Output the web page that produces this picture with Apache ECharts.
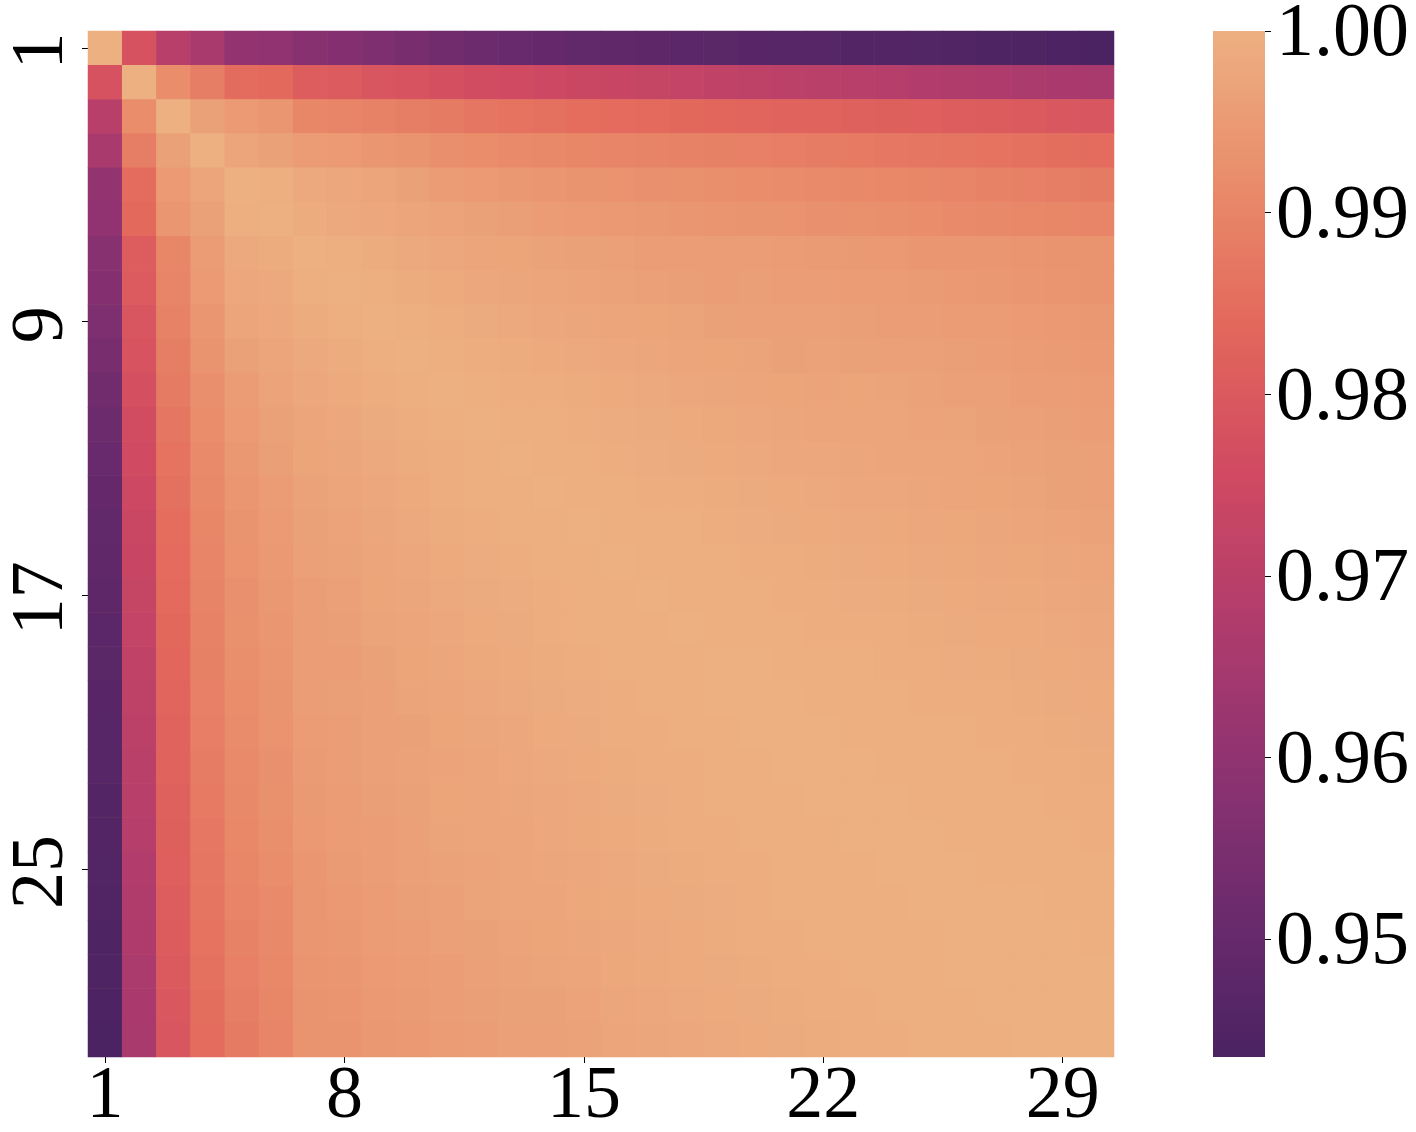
<!DOCTYPE html>
<html>
<head>
<meta charset="utf-8">
<style>html,body{margin:0;padding:0;background:#fff}#c{width:1416px;height:1132px}</style>
<script src="https://cdn.jsdelivr.net/npm/echarts@6/dist/echarts.min.js"></script>
</head>
<body>
<div id="c"></div>
<script>
const categories = Array.from({length: 30}, (_, i) => String(i + 1));
const colorbarTicks = [0.95, 0.96, 0.97, 0.98, 0.99, 1.00];
const colorMin = 0.9435, colorMax = 1.0;
const flareReversed = ['#4b2362','#6c2b6d','#8f3371','#b13c6c','#d14a61','#e3685c','#e98d6b','#edb081'];
// upper triangle of the symmetric matrix: each row starts on the diagonal
const r01 = [1,.978,.9695,.9655,.9605,.9600,.9580,.9570,.9555,.9540,.9525,.9515,.9505,.9498,.9492,.9486,.9480,.9476,.9472,.9468,.9465,.9461,.9458,.9455,.9452,.9449,.9446,.9443,.9440,.9437];
const r02 = [1,.992,.9885,.9848,.984,.981,.9803,.979,.9783,.977,.9763,.9755,.9747,.974,.9734,.9728,.9722,.9716,.971,.9704,.9698,.9692,.9686,.968,.9675,.967,.9665,.966,.9655];
const r03 = [1,.9965,.995,.994,.9905,.99,.9895,.9885,.988,.987,.9862,.9855,.985,.9846,.9842,.9838,.9834,.983,.9827,.9824,.9821,.9818,.9815,.981,.9805,.98,.9795,.979];
const r04 = [1,.9975,.9965,.9955,.995,.994,.9935,.9925,.992,.9915,.991,.9905,.9902,.9899,.9896,.9893,.989,.9886,.9882,.9878,.9874,.987,.9866,.9862,.9858,.9852,.9847];
const r05 = [1,.9995,.9985,.998,.9975,.9965,.9955,.995,.9945,.994,.9935,.9932,.9929,.9926,.9923,.992,.9917,.9914,.9911,.9908,.9905,.99,.9895,.989,.9885,.988];
const r06 = [1,.999,.9985,.998,.9975,.997,.9965,.996,.9955,.995,.9947,.9944,.9941,.9938,.9935,.9932,.9929,.9926,.9923,.992,.9915,.9912,.9908,.9904,.99];
const r07 = [1,.9995,.999,.9985,.998,.9975,.9972,.9968,.9965,.9962,.9959,.9956,.9958,.9956,.9954,.9952,.9949,.9946,.9943,.9941,.9939,.9937,.9935,.9933];
const r08 = [1,.9995,.999,.9986,.9982,.9978,.9974,.997,.9967,.9964,.9961,.9958,.996,.9958,.9956,.9955,.9953,.9951,.9948,.9945,.9942,.9938,.9935];
const r09 = [1,.9995,.9992,.9988,.9984,.998,.9977,.9975,.9972,.9969,.9966,.9963,.9964,.9962,.996,.9959,.9957,.9955,.9953,.995,.9947,.9944,.9941];
const r10 = [1,.9996,.9993,.999,.9987,.9984,.998,.9977,.9975,.9972,.9969,.9966,.9968,.9966,.9964,.9962,.996,.9957,.9954,.9951,.9948,.9945];
const r11 = [1,.9996,.9994,.9992,.999,.9987,.9984,.9981,.9978,.9975,.9972,.997,.9972,.9969,.9967,.9964,.9962,.9959,.9956,.9953,.995];
const r12 = [1,.9997,.9995,.9993,.9991,.9989,.9986,.9983,.998,.9977,.9975,.9973,.9974,.9971,.9969,.9966,.9963,.996,.9957,.9954];
const r13 = [1,.9997,.9995,.9993,.9991,.9989,.9987,.9985,.9982,.998,.9978,.9975,.9973,.9974,.9971,.9968,.9965,.9962,.9958];
const r14 = [1,.9998,.9996,.9994,.9992,.999,.9988,.9986,.9984,.9982,.998,.9977,.9975,.9972,.9969,.9966,.9963,.996];
const r15 = [1,.9998,.9996,.9995,.9993,.9991,.9989,.9987,.9985,.9983,.9981,.9979,.9977,.9974,.9971,.9968,.9965];
const r16 = [1,.9998,.9997,.9995,.9994,.9992,.999,.9988,.9987,.9985,.9983,.9981,.9979,.9977,.9974,.997];
const r17 = [1,.9998,.9997,.9996,.9994,.9993,.9991,.999,.9988,.9987,.9985,.9983,.9981,.9978,.9975];
const r18 = [1,.9998,.9997,.9996,.9994,.9993,.9992,.999,.9989,.9987,.9986,.9984,.9981,.9978];
const r19 = [1,.9999,.9997,.9996,.9995,.9994,.9992,.9991,.999,.9988,.9986,.9984,.9981];
const r20 = [1,.9999,.9998,.9996,.9995,.9994,.9993,.9992,.999,.9988,.9986,.9984];
const r21 = [1,.9999,.9998,.9997,.9996,.9995,.9993,.9992,.999,.9988,.9986];
const r22 = [1,.9999,.9998,.9997,.9996,.9995,.9994,.9992,.999,.9988];
const r23 = [1,.9999,.9998,.9997,.9996,.9995,.9994,.9992,.999];
const r24 = [1,.9999,.9998,.9998,.9997,.9996,.9994,.9992];
const r25 = [1,.9999,.9998,.9998,.9997,.9996,.9994];
const r26 = [1,.9999,.9999,.9998,.9997,.9996];
const r27 = [1,.9999,.9999,.9998,.9997];
const r28 = [1,.9999,.9999,.9998];
const r29 = [1,.9999,.9999];
const r30 = [1];
const upperRows = [r01,r02,r03,r04,r05,r06,r07,r08,r09,r10,r11,r12,r13,r14,r15,r16,r17,r18,r19,r20,r21,r22,r23,r24,r25,r26,r27,r28,r29,r30];

const cells = [];
upperRows.forEach((row, i) => row.forEach((v, k) => {
  const j = i + k;
  cells.push([j, i, v]);
  if (j !== i) cells.push([i, j, v]);
}));

const font = 'Liberation Serif';
const colorbarFill = new echarts.graphic.LinearGradient(0, 1, 0, 0,
  flareReversed.map((color, i) => ({offset: i / (flareReversed.length - 1), color})));
const chart = echarts.init(document.getElementById('c'), null, {renderer: 'canvas'});
chart.setOption({
  animation: false,
  backgroundColor: '#fff',
  grid: [
    {left: 88, top: 31, width: 1026, height: 1026, containLabel: false, outerBoundsMode: 'none',
     show: true, backgroundColor: '#eca67a', borderWidth: 0},
    {left: 1213, top: 31, width: 52, height: 1026, containLabel: false, outerBoundsMode: 'none',
     show: true, backgroundColor: colorbarFill, borderWidth: 0}
  ],
  xAxis: [
    {type: 'category', gridIndex: 0, data: categories, position: 'bottom',
     axisLine: {show: false},
     axisTick: {show: true, alignWithLabel: true, interval: 6, length: 6, lineStyle: {color: '#000', width: 1}},
     axisLabel: {interval: 6, margin: 4, fontFamily: font, fontSize: 74, color: '#000'},
     splitLine: {show: false}, splitArea: {show: false}},
    {type: 'value', gridIndex: 1, show: false, min: 0, max: 1}
  ],
  yAxis: [
    {type: 'category', gridIndex: 0, data: categories, inverse: true, position: 'left',
     axisLine: {show: false},
     axisTick: {show: true, alignWithLabel: true, interval: 7, length: 6, lineStyle: {color: '#000', width: 1}},
     axisLabel: {interval: 7, rotate: 90, margin: 8, padding: [0, 6, 0, 0], fontFamily: font, fontSize: 74, color: '#000', align: 'center', verticalAlign: 'bottom'},
     splitLine: {show: false}, splitArea: {show: false}},
    {type: 'value', gridIndex: 1, position: 'right', min: colorMin, max: colorMax,
     axisLine: {show: false, onZero: false},
     axisTick: {show: true, length: 6, lineStyle: {color: '#000', width: 1}, customValues: colorbarTicks},
     axisLabel: {margin: 11, color: '#000', customValues: colorbarTicks,
       showMinLabel: true, showMaxLabel: true, hideOverlap: false,
       formatter: v => '{a|' + Number(v).toFixed(2) + '}',
       rich: {a: {fontFamily: font, fontSize: 76, color: '#000', padding: [9, 0, 0, 0]}}},
     splitLine: {show: false}}
  ],
  visualMap: {
    type: 'continuous', min: colorMin, max: colorMax, seriesIndex: 0, show: false,
    inRange: {color: flareReversed}
  },
  series: [
    {type: 'heatmap', xAxisIndex: 0, yAxisIndex: 0, data: cells, progressive: 0,
     itemStyle: {borderWidth: 0}, emphasis: {disabled: true}},
    {type: 'scatter', xAxisIndex: 1, yAxisIndex: 1, data: [], silent: true}
  ]
});
</script>
</body>
</html>
